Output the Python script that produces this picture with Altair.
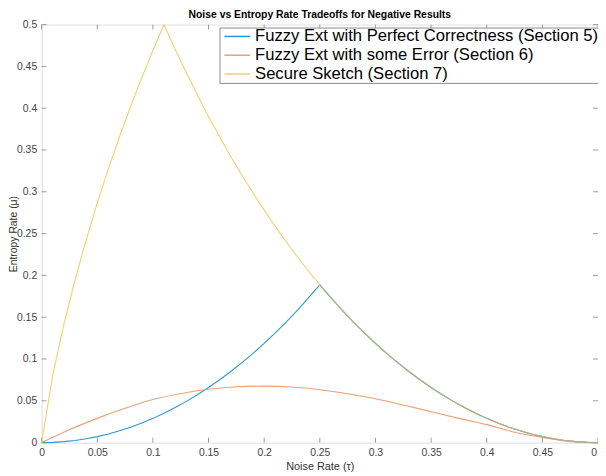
import altair as alt
import pandas as pd

# ---- data ----
tau = [0.00, 0.01, 0.02, 0.03, 0.04, 0.05, 0.06, 0.07, 0.08, 0.09,
       0.10, 0.11, 0.12, 0.13, 0.14, 0.15, 0.16, 0.17, 0.18, 0.19,
       0.20, 0.21, 0.22, 0.23, 0.24, 0.25, 0.26, 0.27, 0.28, 0.29,
       0.30, 0.31, 0.32, 0.33, 0.34, 0.35, 0.36, 0.37, 0.38, 0.39,
       0.40, 0.41, 0.42, 0.43, 0.44, 0.45, 0.46, 0.47, 0.48, 0.49, 0.50]

perfect = [0.0, 0.0003, 0.0012, 0.0026, 0.0046, 0.0072, 0.0104, 0.0142, 0.0185, 0.0235,
           0.0290, 0.0352, 0.0420, 0.0493, 0.0573, 0.0659, 0.0752, 0.0851, 0.0956, 0.1068,
           0.1187, 0.1313, 0.1445, 0.1585, 0.1733, 0.1887, 0.1733, 0.1585, 0.1445, 0.1313,
           0.1187, 0.1068, 0.0956, 0.0851, 0.0752, 0.0659, 0.0573, 0.0493, 0.0420, 0.0352,
           0.0290, 0.0235, 0.0185, 0.0142, 0.0104, 0.0072, 0.0046, 0.0026, 0.0012, 0.0003, 0.0]

sketch = [0.0, 0.0808, 0.1414, 0.1944, 0.2423, 0.2864, 0.3274, 0.3659, 0.4022, 0.4365,
          0.4690, 0.4999, 0.4706, 0.4426, 0.4158, 0.3902, 0.3657, 0.3423, 0.3199, 0.2985,
          0.2781, 0.2585, 0.2398, 0.2220, 0.2050, 0.1887, 0.1733, 0.1585, 0.1445, 0.1313,
          0.1187, 0.1068, 0.0956, 0.0851, 0.0752, 0.0659, 0.0573, 0.0493, 0.0420, 0.0352,
          0.0290, 0.0235, 0.0185, 0.0142, 0.0104, 0.0072, 0.0046, 0.0026, 0.0012, 0.0003, 0.0]

tau_err = [0.0, 0.0155, 0.025, 0.05, 0.075, 0.1, 0.125, 0.15, 0.175, 0.2, 0.225, 0.25,
           0.275, 0.3, 0.325, 0.35, 0.375, 0.4, 0.425, 0.45, 0.475, 0.5]
some_error = [0.0, 0.0098, 0.0155, 0.029, 0.041, 0.0515, 0.0585, 0.0638, 0.0668, 0.0676,
              0.0665, 0.0633, 0.0585, 0.0525, 0.045, 0.037, 0.029, 0.0215, 0.0125, 0.0062,
              0.0015, 0.0]

series_names = ["Fuzzy Ext with Perfect Correctness (Section 5)",
                "Fuzzy Ext with some Error (Section 6)",
                "Secure Sketch (Section 7)"]
series_colors = ["#2e95d3", "#e8a078", "#f2d070"]
overlap_color = "#a2b28c"

tick_values = [0, 0.05, 0.1, 0.15, 0.2, 0.25, 0.3, 0.35, 0.4, 0.45, 0.5]

# ---- tables ----
df_main = pd.concat([
    pd.DataFrame({"tau": tau, "mu": perfect, "series": series_names[0]}),
    pd.DataFrame({"tau": tau, "mu": sketch, "series": series_names[2]}),
], ignore_index=True)
df_err = pd.DataFrame({"tau": tau_err, "mu": some_error, "series": series_names[1]})

overlap = pd.DataFrame({"tau": tau, "mu": sketch})
overlap = overlap[overlap["tau"] >= 0.25]

ticks_x = pd.DataFrame({"tau": tick_values})
ticks_y = pd.DataFrame({"mu": tick_values})

W, H = 563, 423
FONT = "Liberation Sans"
GRAY = "#9a9a9a"
XTITLE = "Noise Rate (τ)"
YTITLE = "Entropy Rate (μ)"

xscale = alt.Scale(domain=[0, 0.5], nice=False, zero=False)
yscale = alt.Scale(domain=[0, 0.5], nice=False, zero=False)

xaxis = alt.Axis(values=tick_values, format="~g", ticks=False, domain=False, grid=False,
                 labelFontSize=10.5, labelColor="#444444", labelPadding=5, labelFlush=False,
                 labelOverlap=False, labelFont=FONT, titleFont=FONT, titleFontSize=11,
                 titleFontWeight="normal", titleColor="#333333", titlePadding=3)
yaxis = alt.Axis(values=tick_values, format="~g", ticks=False, domain=False, grid=False,
                 labelFontSize=10.5, labelColor="#444444", labelPadding=5, labelFlush=False,
                 labelOverlap=False, labelFont=FONT, titleFont=FONT, titleFontSize=10.5,
                 titleFontWeight="normal", titleColor="#333333", titleX=-28,
                 titleBaseline="middle")

color_enc = alt.Color(
    "series:N",
    scale=alt.Scale(domain=series_names, range=series_colors),
    sort=series_names,
    legend=alt.Legend(title=None, orient="none", legendX=180, legendY=3,
                      symbolType="M-1.58,0H1.58", symbolSize=272,
                      symbolStrokeWidth=1.5, symbolOffset=9, labelFontSize=16.8,
                      labelFont=FONT, labelColor="#000000",
                      rowPadding=1, padding=0, titlePadding=0, labelOffset=9,
                      strokeColor="#8a8a8a", fillColor="#ffffff",
                      labelLimit=500),
)

lines = alt.Chart(df_main).mark_line(strokeWidth=1.1).encode(
    x=alt.X("tau:Q", scale=xscale, axis=xaxis, title=XTITLE),
    y=alt.Y("mu:Q", scale=yscale, axis=yaxis, title=YTITLE),
    color=color_enc,
)

err_line = alt.Chart(df_err).mark_line(strokeWidth=1.1, interpolate="monotone").encode(
    x=alt.X("tau:Q", scale=xscale, title=XTITLE),
    y=alt.Y("mu:Q", scale=yscale, title=YTITLE),
    color=color_enc,
)

overlap_line = alt.Chart(overlap).mark_line(strokeWidth=1.1, color=overlap_color).encode(
    x=alt.X("tau:Q", scale=xscale, title=XTITLE),
    y=alt.Y("mu:Q", scale=yscale, title=YTITLE),
)

bottom_ticks = alt.Chart(ticks_x).mark_rule(color=GRAY, strokeWidth=1).encode(
    x=alt.X("tau:Q", scale=xscale, title=XTITLE), y=alt.value(H), y2=alt.value(H - 5))
top_ticks = alt.Chart(ticks_x).mark_rule(color=GRAY, strokeWidth=1).encode(
    x=alt.X("tau:Q", scale=xscale, title=XTITLE), y=alt.value(0), y2=alt.value(5))
left_ticks = alt.Chart(ticks_y).mark_rule(color=GRAY, strokeWidth=1).encode(
    y=alt.Y("mu:Q", scale=yscale, title=YTITLE), x=alt.value(0), x2=alt.value(5))
right_ticks = alt.Chart(ticks_y).mark_rule(color=GRAY, strokeWidth=1).encode(
    y=alt.Y("mu:Q", scale=yscale, title=YTITLE), x=alt.value(W), x2=alt.value(W - 5))

chart = alt.layer(
    bottom_ticks, top_ticks, left_ticks, right_ticks, lines, err_line, overlap_line
).properties(
    width=W, height=H,
    title=alt.Title("Noise vs Entropy Rate Tradeoffs for Negative Results",
                    fontSize=10.5, fontWeight="bold", font=FONT, color="#000000",
                    anchor="middle", offset=2, dy=3),
    autosize=alt.AutoSizeParams(type="none"),
    padding={"left": 34, "top": 14, "right": 0, "bottom": 31},
).configure_view(
    stroke=GRAY, strokeWidth=1
).configure(
    background="#ffffff"
)

chart.save("out.html", embed_options={"renderer": "svg", "actions": False})
